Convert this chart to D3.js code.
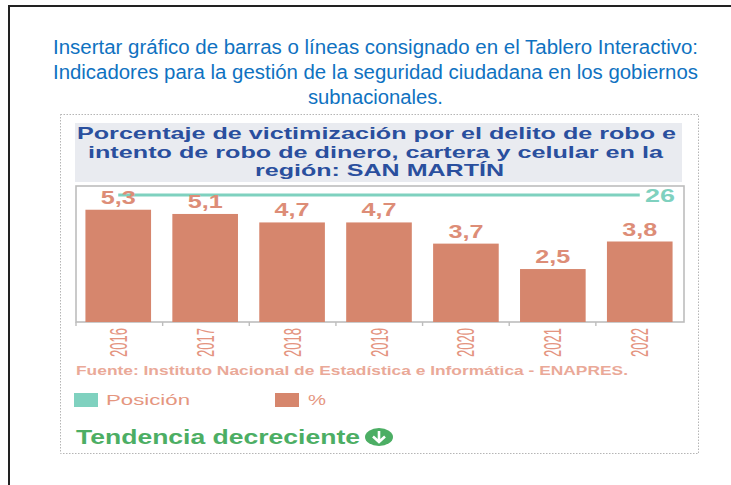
<!DOCTYPE html>
<html><head><meta charset="utf-8">
<script src="https://cdn.jsdelivr.net/npm/d3@7"></script>
<style>html,body{margin:0;padding:0;background:#fff}svg{display:block}text{font-family:"Liberation Sans",Arial,sans-serif}</style>
</head><body><div id="c"></div>
<script>
const years = ["2016","2017","2018","2019","2020","2021","2022"];
const percent = [5.3,5.1,4.7,4.7,3.7,2.5,3.8];
const percentLabels = ["5,3","5,1","4,7","4,7","3,7","2,5","3,8"];
const position = [26,26,26,26,26,26,26];
const intro = ["Insertar gráfico de barras o líneas consignado en el Tablero Interactivo:","Indicadores para la gestión de la seguridad ciudadana en los gobiernos","subnacionales."];
const titleLines = ["Porcentaje de victimización por el delito de robo e","intento de robo de dinero, cartera y celular en la","región: SAN MARTÍN"];
const source = "Fuente: Instituto Nacional de Estadística e Informática - ENAPRES.";
const legendNames = ["Posición","%"];
const trend = "Tendencia decreciente";

const W=731,H=485;
const svg=d3.select("#c").append("svg").attr("width",W).attr("height",H);
function txt(s,x,y,len,size,fill,weight,anchor){
  return svg.append("text").text(s).attr("x",x).attr("y",y).attr("font-size",size)
    .attr("fill",fill).attr("font-weight",weight||"normal").attr("text-anchor",anchor||"start")
    .attr("textLength",len).attr("lengthAdjust","spacingAndGlyphs");
}
// page frame
svg.append("path").attr("d","M9,485V6H731").attr("fill","none").attr("stroke","#222").attr("stroke-width",2);
// intro
[[53,54,645],[53,79,645],[308,104,135]].forEach((p,i)=>txt(intro[i],p[0],p[1],p[2],20,"#0f72c1"));
// dashed card
svg.append("rect").attr("x",60.5).attr("y",114.5).attr("width",638).attr("height",339)
  .attr("fill","#fff").attr("stroke","#b5b5b5").attr("stroke-dasharray","1.5 1.5");
// title
svg.append("rect").attr("x",75).attr("y",123).attr("width",607).attr("height",59).attr("fill","#e9ebf0");
[[77,139,599],[88,158,575],[255,176,249]].forEach((p,i)=>txt(titleLines[i],p[0],p[1],p[2],17,"#2a4f9e","bold"));

// scales
const x=d3.scaleBand().domain(years).range([75,683]).paddingInner(0.245).paddingOuter(0.12);
const xTick=d3.scaleLinear().domain([0,7]).range([76,682.5]);
const y=d3.scaleLinear().domain([0,6.42]).range([322,186]);
const yPos=d3.scaleLinear().domain([0,26]).range([322,195]);
const barColor="#d6866d", lineColor="#7fd1bf", axisColor="#bdbdbd";

// plot frame
svg.append("rect").attr("x",76).attr("y",186).attr("width",608).attr("height",136)
  .attr("fill","#fff").attr("stroke",axisColor).attr("stroke-width",1.6);
// bars
svg.selectAll("rect.bar").data(years).join("rect").attr("class","bar")
  .attr("x",d=>x(d)).attr("width",x.bandwidth())
  .attr("y",(d,i)=>y(percent[i])).attr("height",(d,i)=>322-y(percent[i])).attr("fill",barColor);
// ticks
svg.selectAll("line.tick").data(years).join("line").attr("class","tick")
  .attr("x1",(d,i)=>xTick(i)).attr("x2",(d,i)=>xTick(i)).attr("y1",322).attr("y2",326)
  .attr("stroke",axisColor).attr("stroke-width",1.4);
// position line
const cx=d=>x(d)+x.bandwidth()/2;
svg.append("path").datum(years)
  .attr("d",d3.line().x(cx).y((d,i)=>yPos(position[i])))
  .attr("fill","none").attr("stroke",lineColor).attr("stroke-width",3);
txt(String(position[6]),645,201.5,30,19,lineColor,"bold");
// value labels
percentLabels.forEach((s,i)=>{
  txt(s,cx(years[i]),y(percent[i])-6,35,18.5,"#dd8d77","bold","middle");
});
// year labels
years.forEach(d=>{
  svg.append("text").text(d).attr("transform",`translate(${cx(d)+8.5},357) rotate(-90)`)
    .attr("font-size",23).attr("fill","#e4947f")
    .attr("textLength",29).attr("lengthAdjust","spacingAndGlyphs");
});
// source
txt(source,76,375,552,13,"#eaa998","bold");
// legend
[[74,106,84],[275,308,18]].forEach((p,i)=>{
  svg.append("rect").attr("x",p[0]).attr("y",393).attr("width",24).attr("height",14).attr("fill",i?barColor:lineColor);
  txt(legendNames[i],p[1],405,p[2],15,"#e5967f");
});
// trend
txt(trend,76,444,284,20.5,"#4cae64","bold");
svg.append("ellipse").attr("cx",379).attr("cy",437).attr("rx",14).attr("ry",9).attr("fill","#4cae64");
svg.append("path").attr("d","M379,431V441.5M373,436.5L379,442L385,436.5").attr("fill","none").attr("stroke","#fff").attr("stroke-width",2.6);
</script></body></html>
